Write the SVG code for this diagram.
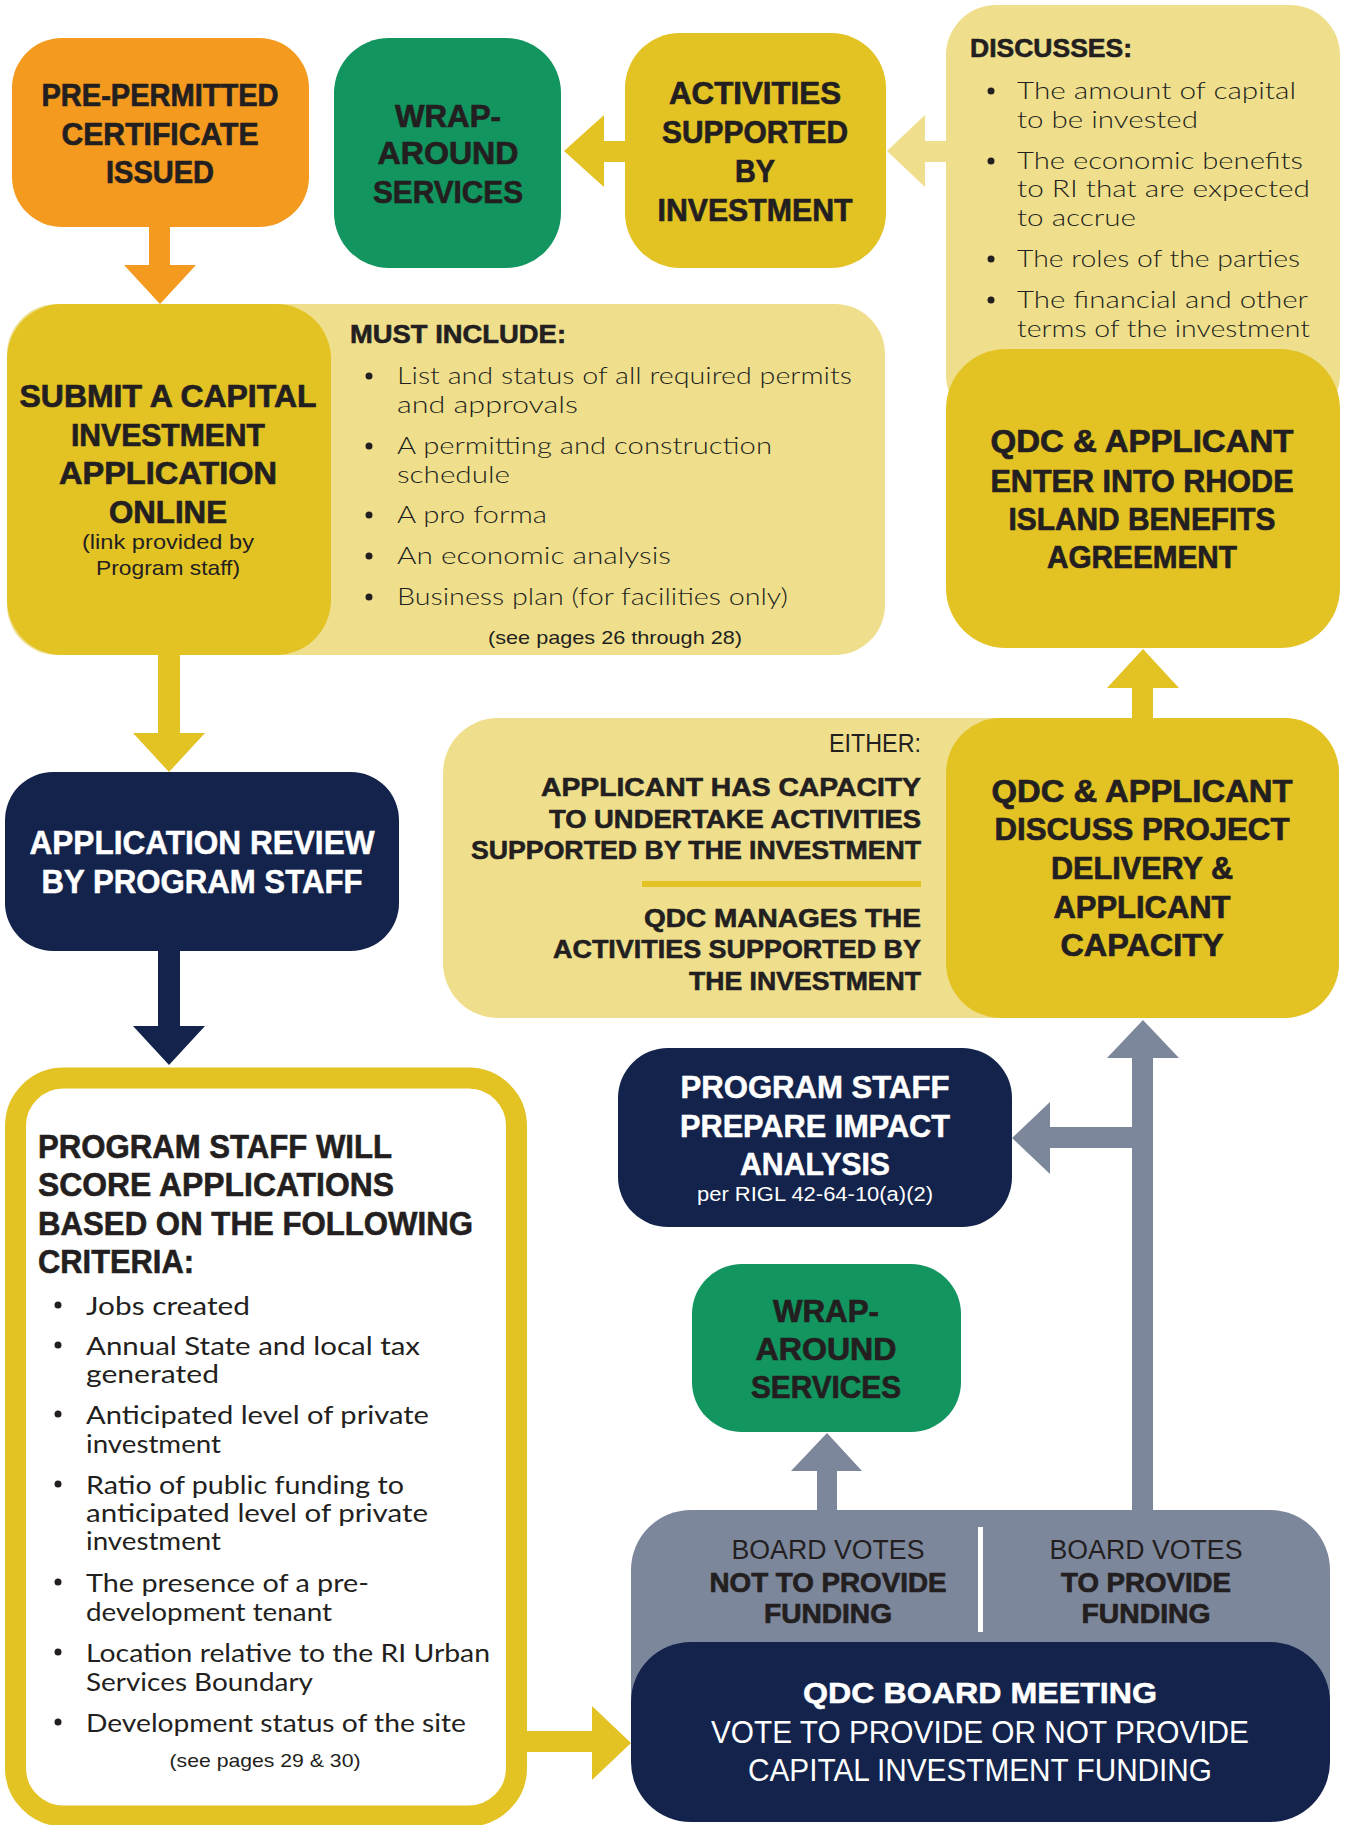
<svg xmlns="http://www.w3.org/2000/svg" width="1347" height="1825" viewBox="0 0 1347 1825">
<style>
.hb{font-family:"Liberation Sans",Arial,sans-serif;font-weight:bold;fill:#231F20;stroke:#231F20;stroke-width:0.7;text-anchor:middle}
.hbw{font-family:"Liberation Sans",Arial,sans-serif;font-weight:bold;fill:#FFFFFF;stroke:#FFFFFF;stroke-width:0.5;text-anchor:middle}
.hl{font-family:"Liberation Sans",Arial,sans-serif;font-weight:bold;fill:#231F20;stroke:#231F20;stroke-width:0.6}
.bd{font-family:"Lato","Liberation Sans",sans-serif;font-weight:300;fill:#231F20;font-size:24px}
.cr{font-family:"Lato","Liberation Sans",sans-serif;font-weight:400;fill:#231F20;font-size:25px}
.sm{font-family:"Liberation Sans",Arial,sans-serif;fill:#231F20;text-anchor:middle}
.smw{font-family:"Liberation Sans",Arial,sans-serif;fill:#FFFFFF;text-anchor:middle}
.orange{fill:#F39A1F}.green{fill:#12955F}.yellow{fill:#E3C224}.light{fill:#EFDF8D}.navy{fill:#13234B}.gray{fill:#7D879C}
.dot{fill:#231F20}
</style>
<rect width="1347" height="1825" fill="#FFFFFF"/>

<g id="connectors">
  <polygon class="orange" points="149,226 170,226 170,265 196,265 160,304 124,265 149,265"/>
  <polygon class="yellow" points="158,654 180,654 180,733 205,733 169,772 133,733 158,733"/>
  <polygon class="navy" points="158,950 180,950 180,1026 205,1026 169,1065 133,1026 158,1026"/>
  <polygon class="yellow" points="626,141 604,141 604,115 564,151 604,187 604,162 626,162"/>
  <polygon class="light" points="947,141 925,141 925,115 887,151 925,187 925,162 947,162"/>
  <polygon class="yellow" points="1132,719 1153,719 1153,688 1179,688 1143,649 1107,688 1132,688"/>
  <polygon class="gray" points="1132,1512 1132,1148 1050,1148 1050,1174 1012,1138 1050,1102 1050,1127 1132,1127 1132,1058 1107,1058 1143,1020 1179,1058 1153,1058 1153,1512"/>
  <polygon class="gray" points="817,1512 817,1471 791,1471 827,1433 862,1471 837,1471 837,1512"/>
  <polygon class="yellow" points="526,1731 592,1731 592,1706 631,1743 592,1780 592,1752 526,1752"/>
</g>

<g id="node-preperm">
  <rect class="orange" x="12" y="38" width="297" height="189" rx="50"/>
  <text class="hb" font-size="32" x="160" y="106" textLength="237" lengthAdjust="spacingAndGlyphs">PRE-PERMITTED</text>
  <text class="hb" font-size="32" x="160" y="145" textLength="197" lengthAdjust="spacingAndGlyphs">CERTIFICATE</text>
  <text class="hb" font-size="32" x="160" y="183" textLength="108" lengthAdjust="spacingAndGlyphs">ISSUED</text>
</g>

<g id="node-wrap1">
  <rect class="green" x="334" y="38" width="227" height="230" rx="55"/>
  <text class="hb" font-size="32" x="448" y="127" textLength="106" lengthAdjust="spacingAndGlyphs">WRAP-</text>
  <text class="hb" font-size="32" x="448" y="164" textLength="141" lengthAdjust="spacingAndGlyphs">AROUND</text>
  <text class="hb" font-size="32" x="448" y="203" textLength="150" lengthAdjust="spacingAndGlyphs">SERVICES</text>
</g>

<g id="node-activities">
  <rect class="yellow" x="625" y="33" width="261" height="235" rx="55"/>
  <text class="hb" font-size="32" x="755" y="104" textLength="172" lengthAdjust="spacingAndGlyphs">ACTIVITIES</text>
  <text class="hb" font-size="32" x="755" y="143" textLength="186" lengthAdjust="spacingAndGlyphs">SUPPORTED</text>
  <text class="hb" font-size="32" x="755" y="182" textLength="40" lengthAdjust="spacingAndGlyphs">BY</text>
  <text class="hb" font-size="32" x="755" y="221" textLength="195" lengthAdjust="spacingAndGlyphs">INVESTMENT</text>
</g>

<g id="node-discusses">
  <rect class="light" x="946" y="5" width="394" height="420" rx="50"/>
  <text class="hl" font-size="26" x="970" y="57" textLength="162" lengthAdjust="spacingAndGlyphs">DISCUSSES:</text>
  <circle class="dot" cx="991" cy="91" r="3.5"/>
  <text class="bd" x="1017" y="99" textLength="279" lengthAdjust="spacingAndGlyphs">The amount of capital</text>
  <text class="bd" x="1017" y="128" textLength="181" lengthAdjust="spacingAndGlyphs">to be invested</text>
  <circle class="dot" cx="991" cy="161" r="3.5"/>
  <text class="bd" x="1017" y="169" textLength="286" lengthAdjust="spacingAndGlyphs">The economic benefits</text>
  <text class="bd" x="1017" y="197" textLength="293" lengthAdjust="spacingAndGlyphs">to RI that are expected</text>
  <text class="bd" x="1017" y="226" textLength="119" lengthAdjust="spacingAndGlyphs">to accrue</text>
  <circle class="dot" cx="991" cy="259" r="3.5"/>
  <text class="bd" x="1017" y="267" textLength="283" lengthAdjust="spacingAndGlyphs">The roles of the parties</text>
  <circle class="dot" cx="991" cy="300" r="3.5"/>
  <text class="bd" x="1017" y="308" textLength="291" lengthAdjust="spacingAndGlyphs">The financial and other</text>
  <text class="bd" x="1017" y="337" textLength="293" lengthAdjust="spacingAndGlyphs">terms of the investment</text>
</g>

<g id="node-agreement">
  <rect class="yellow" x="946" y="349" width="394" height="299" rx="60"/>
  <text class="hb" font-size="31" x="1142" y="452" textLength="303" lengthAdjust="spacingAndGlyphs">QDC &amp; APPLICANT</text>
  <text class="hb" font-size="31" x="1142" y="492" textLength="303" lengthAdjust="spacingAndGlyphs">ENTER INTO RHODE</text>
  <text class="hb" font-size="31" x="1142" y="530" textLength="267" lengthAdjust="spacingAndGlyphs">ISLAND BENEFITS</text>
  <text class="hb" font-size="31" x="1142" y="568" textLength="190" lengthAdjust="spacingAndGlyphs">AGREEMENT</text>
</g>

<g id="node-submit">
  <rect class="light" x="7" y="304" width="878" height="351" rx="50"/>
  <rect class="yellow" x="7" y="304" width="324" height="351" rx="55"/>
  <text class="hb" font-size="31" x="168" y="407" textLength="297" lengthAdjust="spacingAndGlyphs">SUBMIT A CAPITAL</text>
  <text class="hb" font-size="31" x="168" y="446" textLength="194" lengthAdjust="spacingAndGlyphs">INVESTMENT</text>
  <text class="hb" font-size="31" x="168" y="484" textLength="218" lengthAdjust="spacingAndGlyphs">APPLICATION</text>
  <text class="hb" font-size="31" x="168" y="523" textLength="118" lengthAdjust="spacingAndGlyphs">ONLINE</text>
  <text class="sm" font-size="21" x="168" y="549" textLength="172" lengthAdjust="spacingAndGlyphs">(link provided by</text>
  <text class="sm" font-size="21" x="168" y="575" textLength="144" lengthAdjust="spacingAndGlyphs">Program staff)</text>
  <text class="hl" font-size="26" x="350" y="343" textLength="216" lengthAdjust="spacingAndGlyphs">MUST INCLUDE:</text>
  <circle class="dot" cx="369" cy="376" r="3.5"/>
  <text class="bd" x="397" y="384" textLength="455" lengthAdjust="spacingAndGlyphs">List and status of all required permits</text>
  <text class="bd" x="397" y="413" textLength="181" lengthAdjust="spacingAndGlyphs">and approvals</text>
  <circle class="dot" cx="369" cy="446" r="3.5"/>
  <text class="bd" x="397" y="454" textLength="375" lengthAdjust="spacingAndGlyphs">A permitting and construction</text>
  <text class="bd" x="397" y="483" textLength="113" lengthAdjust="spacingAndGlyphs">schedule</text>
  <circle class="dot" cx="369" cy="515" r="3.5"/>
  <text class="bd" x="397" y="523" textLength="150" lengthAdjust="spacingAndGlyphs">A pro forma</text>
  <circle class="dot" cx="369" cy="556" r="3.5"/>
  <text class="bd" x="397" y="564" textLength="274" lengthAdjust="spacingAndGlyphs">An economic analysis</text>
  <circle class="dot" cx="369" cy="597" r="3.5"/>
  <text class="bd" x="397" y="605" textLength="391" lengthAdjust="spacingAndGlyphs">Business plan (for facilities only)</text>
  <text class="sm" font-size="19" x="615" y="644" textLength="254" lengthAdjust="spacingAndGlyphs">(see pages 26 through 28)</text>
</g>

<g id="node-review">
  <rect class="navy" x="5" y="772" width="394" height="179" rx="48"/>
  <text class="hbw" font-size="33" x="202" y="854" textLength="345" lengthAdjust="spacingAndGlyphs">APPLICATION REVIEW</text>
  <text class="hbw" font-size="33" x="202" y="893" textLength="321" lengthAdjust="spacingAndGlyphs">BY PROGRAM STAFF</text>
</g>

<g id="node-discuss-delivery">
  <rect class="light" x="443" y="718" width="896" height="300" rx="55"/>
  <rect class="yellow" x="946" y="718" width="393" height="300" rx="55"/>
  <text class="sm" font-size="26" x="921" y="752" style="text-anchor:end" textLength="92" lengthAdjust="spacingAndGlyphs">EITHER:</text>
  <text class="hl" font-size="26" x="921" y="796" style="text-anchor:end" textLength="380" lengthAdjust="spacingAndGlyphs">APPLICANT HAS CAPACITY</text>
  <text class="hl" font-size="26" x="921" y="828" style="text-anchor:end" textLength="372" lengthAdjust="spacingAndGlyphs">TO UNDERTAKE ACTIVITIES</text>
  <text class="hl" font-size="26" x="921" y="859" style="text-anchor:end" textLength="450" lengthAdjust="spacingAndGlyphs">SUPPORTED BY THE INVESTMENT</text>
  <rect class="yellow" x="642" y="881" width="279" height="6"/>
  <text class="hl" font-size="26" x="921" y="927" style="text-anchor:end" textLength="277" lengthAdjust="spacingAndGlyphs">QDC MANAGES THE</text>
  <text class="hl" font-size="26" x="921" y="958" style="text-anchor:end" textLength="368" lengthAdjust="spacingAndGlyphs">ACTIVITIES SUPPORTED BY</text>
  <text class="hl" font-size="26" x="921" y="990" style="text-anchor:end" textLength="232" lengthAdjust="spacingAndGlyphs">THE INVESTMENT</text>
  <text class="hb" font-size="31" x="1142" y="802" textLength="301" lengthAdjust="spacingAndGlyphs">QDC &amp; APPLICANT</text>
  <text class="hb" font-size="31" x="1142" y="840" textLength="295" lengthAdjust="spacingAndGlyphs">DISCUSS PROJECT</text>
  <text class="hb" font-size="31" x="1142" y="879" textLength="182" lengthAdjust="spacingAndGlyphs">DELIVERY &amp;</text>
  <text class="hb" font-size="31" x="1142" y="918" textLength="177" lengthAdjust="spacingAndGlyphs">APPLICANT</text>
  <text class="hb" font-size="31" x="1142" y="956" textLength="163" lengthAdjust="spacingAndGlyphs">CAPACITY</text>
</g>

<g id="node-impact">
  <rect class="navy" x="618" y="1048" width="394" height="179" rx="50"/>
  <text class="hbw" font-size="31" x="815" y="1098" textLength="269" lengthAdjust="spacingAndGlyphs">PROGRAM STAFF</text>
  <text class="hbw" font-size="31" x="815" y="1137" textLength="270" lengthAdjust="spacingAndGlyphs">PREPARE IMPACT</text>
  <text class="hbw" font-size="31" x="815" y="1175" textLength="150" lengthAdjust="spacingAndGlyphs">ANALYSIS</text>
  <text class="smw" font-size="20" x="815" y="1201" textLength="236" lengthAdjust="spacingAndGlyphs">per RIGL 42-64-10(a)(2)</text>
</g>

<g id="node-wrap2">
  <rect class="green" x="692" y="1264" width="269" height="168" rx="50"/>
  <text class="hb" font-size="32" x="826" y="1322" textLength="106" lengthAdjust="spacingAndGlyphs">WRAP-</text>
  <text class="hb" font-size="32" x="826" y="1360" textLength="141" lengthAdjust="spacingAndGlyphs">AROUND</text>
  <text class="hb" font-size="32" x="826" y="1398" textLength="150" lengthAdjust="spacingAndGlyphs">SERVICES</text>
</g>

<g id="node-criteria">
  <rect x="15.5" y="1078" width="501" height="738" rx="48" fill="#FFFFFF" stroke="#E3C224" stroke-width="21"/>
  <text class="hl" font-size="33" x="38" y="1158" textLength="354" lengthAdjust="spacingAndGlyphs">PROGRAM STAFF WILL</text>
  <text class="hl" font-size="33" x="38" y="1196" textLength="356" lengthAdjust="spacingAndGlyphs">SCORE APPLICATIONS</text>
  <text class="hl" font-size="33" x="38" y="1235" textLength="435" lengthAdjust="spacingAndGlyphs">BASED ON THE FOLLOWING</text>
  <text class="hl" font-size="33" x="38" y="1273" textLength="156" lengthAdjust="spacingAndGlyphs">CRITERIA:</text>
  <circle class="dot" cx="58" cy="1305" r="3.5"/>
  <text class="cr" x="86" y="1315" textLength="164" lengthAdjust="spacingAndGlyphs">Jobs created</text>
  <circle class="dot" cx="58" cy="1345" r="3.5"/>
  <text class="cr" x="86" y="1355" textLength="334" lengthAdjust="spacingAndGlyphs">Annual State and local tax</text>
  <text class="cr" x="86" y="1383" textLength="133" lengthAdjust="spacingAndGlyphs">generated</text>
  <circle class="dot" cx="58" cy="1414" r="3.5"/>
  <text class="cr" x="86" y="1424" textLength="343" lengthAdjust="spacingAndGlyphs">Anticipated level of private</text>
  <text class="cr" x="86" y="1453" textLength="135" lengthAdjust="spacingAndGlyphs">investment</text>
  <circle class="dot" cx="58" cy="1484" r="3.5"/>
  <text class="cr" x="86" y="1494" textLength="318" lengthAdjust="spacingAndGlyphs">Ratio of public funding to</text>
  <text class="cr" x="86" y="1522" textLength="342" lengthAdjust="spacingAndGlyphs">anticipated level of private</text>
  <text class="cr" x="86" y="1550" textLength="135" lengthAdjust="spacingAndGlyphs">investment</text>
  <circle class="dot" cx="58" cy="1582" r="3.5"/>
  <text class="cr" x="86" y="1592" textLength="283" lengthAdjust="spacingAndGlyphs">The presence of a pre-</text>
  <text class="cr" x="86" y="1621" textLength="246" lengthAdjust="spacingAndGlyphs">development tenant</text>
  <circle class="dot" cx="58" cy="1652" r="3.5"/>
  <text class="cr" x="86" y="1662" textLength="404" lengthAdjust="spacingAndGlyphs">Location relative to the RI Urban</text>
  <text class="cr" x="86" y="1691" textLength="227" lengthAdjust="spacingAndGlyphs">Services Boundary</text>
  <circle class="dot" cx="58" cy="1722" r="3.5"/>
  <text class="cr" x="86" y="1732" textLength="380" lengthAdjust="spacingAndGlyphs">Development status of the site</text>
  <text class="sm" font-size="19" x="265" y="1767" textLength="191" lengthAdjust="spacingAndGlyphs">(see pages 29 &amp; 30)</text>
</g>

<g id="node-board">
  <rect class="gray" x="631" y="1510" width="699" height="290" rx="60"/>
  <rect x="978" y="1527" width="5" height="105" fill="#FFFFFF"/>
  <text class="sm" font-size="27" x="828" y="1559" textLength="193" lengthAdjust="spacingAndGlyphs">BOARD VOTES</text>
  <text class="hb" font-size="27" x="828" y="1592" textLength="237" lengthAdjust="spacingAndGlyphs">NOT TO PROVIDE</text>
  <text class="hb" font-size="27" x="828" y="1623" textLength="128" lengthAdjust="spacingAndGlyphs">FUNDING</text>
  <text class="sm" font-size="27" x="1146" y="1559" textLength="193" lengthAdjust="spacingAndGlyphs">BOARD VOTES</text>
  <text class="hb" font-size="27" x="1146" y="1592" textLength="170" lengthAdjust="spacingAndGlyphs">TO PROVIDE</text>
  <text class="hb" font-size="27" x="1146" y="1623" textLength="129" lengthAdjust="spacingAndGlyphs">FUNDING</text>
  <rect class="navy" x="631" y="1642" width="699" height="180" rx="60"/>
  <text class="hbw" font-size="30" x="980" y="1703" textLength="354" lengthAdjust="spacingAndGlyphs">QDC BOARD MEETING</text>
  <text class="smw" font-size="31" x="980" y="1743" textLength="538" lengthAdjust="spacingAndGlyphs">VOTE TO PROVIDE OR NOT PROVIDE</text>
  <text class="smw" font-size="31" x="980" y="1781" textLength="464" lengthAdjust="spacingAndGlyphs">CAPITAL INVESTMENT FUNDING</text>
</g>
</svg>
